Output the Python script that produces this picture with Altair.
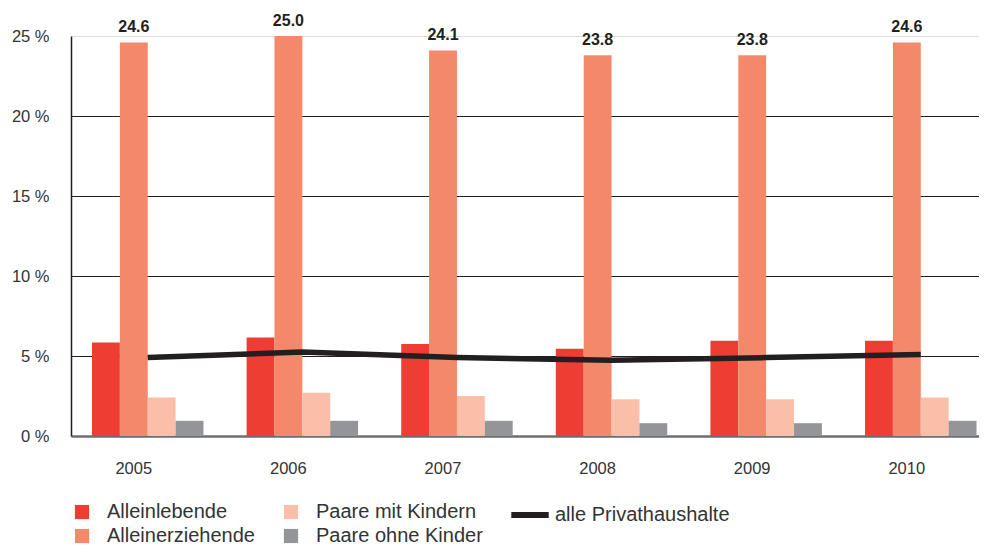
import altair as alt
import pandas as pd

years = ["2005", "2006", "2007", "2008", "2009", "2010"]
alleinlebende = [5.85, 6.15, 5.75, 5.45, 5.95, 5.95]
alleinerziehende = [24.6, 25.0, 24.1, 23.8, 23.8, 24.6]
paare_mit_kindern = [2.4, 2.7, 2.5, 2.3, 2.3, 2.4]
paare_ohne_kinder = [0.95, 0.95, 0.95, 0.8, 0.8, 0.95]
alle_privathaushalte = [4.9, 5.25, 4.9, 4.73, 4.9, 5.1]

series_names = ["Alleinlebende", "Alleinerziehende", "Paare mit Kindern", "Paare ohne Kinder"]
series_values = [alleinlebende, alleinerziehende, paare_mit_kindern, paare_ohne_kinder]
series_colors = ["#EE3D33", "#F4886A", "#FBBFA9", "#939598"]
line_name = "alle Privathaushalte"
line_color = "#231F20"

rows = []
for name, vals in zip(series_names, series_values):
    for y, v in zip(years, vals):
        rows.append({"Jahr": y, "Gruppe": name, "Wert": v})
bars_df = pd.DataFrame(rows)
line_df = pd.DataFrame({"Jahr": years, "Wert": alle_privathaushalte, "Serie": [line_name] * len(years)})

FONT = "Liberation Sans"

# legend order (row-major, 2 columns)
legend_order = ["Alleinlebende", "Paare mit Kindern", "Alleinerziehende", "Paare ohne Kinder"]
legend_colors = [series_colors[series_names.index(n)] for n in legend_order]

x_scale = alt.Scale(paddingInner=0.279, paddingOuter=0.076, align=0.894)
x_enc = alt.X(
    "Jahr:N",
    scale=x_scale,
    sort=years,
    axis=alt.Axis(
        title=None, labelAngle=0, ticks=False, labelPadding=24, labelOffset=-14,
        labelFont=FONT, labelFontSize=16.5, labelColor="#333333",
        domainColor="#6D6E71", domainWidth=2.5, grid=False,
    ),
)
y_enc = alt.Y(
    "Wert:Q",
    scale=alt.Scale(domain=[0, 25], nice=False, zero=True),
    axis=alt.Axis(
        title=None, values=[0, 5, 10, 15, 20, 25], ticks=False, labelPadding=22,
        labelExpr="datum.value + ' %'", labelFont=FONT, labelFontSize=16.5, labelColor="#333333",
        domainColor="#231F20", domainWidth=1.5,
        grid=True, gridColor="#231F20", gridWidth=1,
        gridOpacity={"condition": {"test": "datum.value >= 25 || datum.value <= 0", "value": 0}, "value": 1},
    ),
)

base = alt.Chart(bars_df).encode(
    x=x_enc,
    xOffset=alt.XOffset("Gruppe:N", sort=series_names, scale=alt.Scale(domain=series_names, paddingInner=0, paddingOuter=0)),
    y=y_enc,
)

bars = base.mark_bar().encode(
    color=alt.Color(
        "Gruppe:N",
        scale=alt.Scale(domain=legend_order, range=legend_colors),
        legend=alt.Legend(
            title=None, orient="none", legendX=1, legendY=466, columns=2, direction="horizontal",
            symbolType="square", symbolSize=200, symbolStrokeWidth=0, symbolOpacity=1,
            labelFont=FONT, labelFontSize=20, labelColor="#333333", labelOffset=15,
            columnPadding=26, rowPadding=4, labelLimit=400,
        ),
    )
)

labels = base.transform_filter(alt.datum.Gruppe == "Alleinerziehende").mark_text(
    font=FONT, fontSize=16, fontWeight="bold", color="#231F20", baseline="alphabetic", dy=-10
).encode(text=alt.Text("Wert:Q", format=".1f"))

line = alt.Chart(line_df).mark_line(strokeWidth=5.5, strokeCap="butt").encode(
    x=alt.X("Jahr:N", sort=years, scale=x_scale),
    y=alt.Y("Wert:Q"),
    stroke=alt.Stroke(
        "Serie:N",
        scale=alt.Scale(domain=[line_name], range=[line_color]),
        legend=alt.Legend(
            title=None, orient="none", legendX=437, legendY=457,
            symbolType="stroke", symbolSize=1400, symbolStrokeWidth=6,
            labelFont=FONT, labelFontSize=20, labelColor="#333333", labelOffset=3, labelLimit=400,
        ),
    ),
)

chart = alt.layer(bars, line, labels).resolve_legend(color="independent", stroke="independent").properties(
    width=908,
    height=400,
    autosize=alt.AutoSizeParams(type="none"),
    padding={"left": 63, "top": 28, "right": 0, "bottom": 111},
).configure_view(stroke=None).configure(background="white")

chart.save("out.html", embed_options={"renderer": "svg", "actions": False})
